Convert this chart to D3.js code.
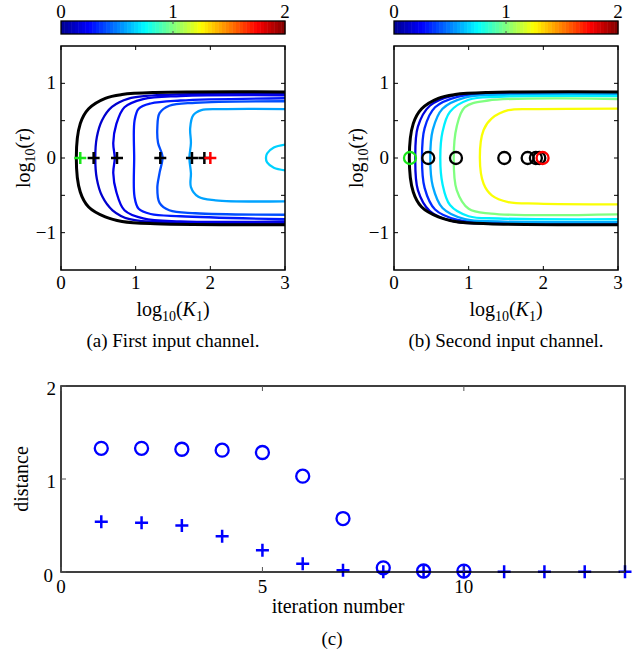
<!DOCTYPE html>
<html>
<head>
<meta charset="utf-8">
<script src="https://cdn.jsdelivr.net/npm/d3@7"></script>
<style>
body{margin:0;background:#fff}
</style>
</head>
<body>
<svg id="fig" width="634" height="656" font-family="'Liberation Serif', 'DejaVu Serif', serif"></svg>
<script>
//jet colour map (value 0..2)
var jetStops = [0, 0.25, 0.75, 1.25, 1.75, 2];
var jetColors = ["#00008f","#0000ff","#00ffff","#ffff00","#ff0000","#800000"];
var cbarTicks = [0, 1, 2];

//axis ticks of the two top panels
var kTicks = [0, 1, 2, 3];
var tauTicks = [-1, -0.5, 0, 0.5, 1];
var tauLabels = [-1, 0, 1];

//feasible region boundary (log10 K1, log10 tau)
var boundary = [[3,0.885],[1.26,0.877],[0.817,0.85],[0.593,0.8],[0.37,0.66],[0.258,0.46],[0.205,0],
    [0.258,-0.456],[0.37,-0.657],[0.593,-0.79],[0.817,-0.85],[1.26,-0.88],[3,-0.893]];

//panel (a) contours
var levelsA = [0.14, 0.2, 0.3, 0.4, 0.57, 0.66];
var contoursA = [
    [[3,0.86],[1.49,0.85],[0.906,0.796],[0.682,0.684],[0.55,0.506],[0.48,0.28],[0.459,0],[0.48,-0.28],[0.55,-0.51],[0.69,-0.7],[0.92,-0.82],[1.5,-0.865],[3,-0.872]],
    [[3,0.84],[1.6,0.83],[1.1,0.79],[0.85,0.68],[0.74,0.45],[0.7,0.2],[0.72,0],[0.7,-0.2],[0.74,-0.45],[0.85,-0.7],[1.1,-0.81],[1.6,-0.85],[3,-0.85]],
    [[3,0.8],[1.6,0.77],[1.2,0.73],[1.04,0.66],[0.985,0.5],[0.98,0],[0.985,-0.52],[1.04,-0.68],[1.2,-0.75],[1.6,-0.78],[3,-0.82]],
    [[3,0.76],[1.8,0.74],[1.45,0.7],[1.32,0.6],[1.29,0.4],[1.3,0.2],[1.36,0.02],[1.32,-0.2],[1.29,-0.4],[1.32,-0.6],[1.45,-0.7],[1.8,-0.74],[3,-0.76]],
    [[3,0.655],[2.15,0.654],[1.88,0.64],[1.77,0.57],[1.73,0.4],[1.74,0.2],[1.72,0],[1.74,-0.2],[1.74,-0.39],[1.84,-0.52],[2.07,-0.567],[3,-0.58]],
    [[3,0.18],[2.85,0.14],[2.76,0.06],[2.745,0],[2.76,-0.06],[2.85,-0.13],[3,-0.165]]
];

//panel (b) contours
var levelsB = [0.17, 0.33, 0.58, 0.72, 1.0, 1.24];
var contoursB = [
    [[3,0.877],[1.3,0.872],[0.8,0.84],[0.48,0.7],[0.32,0.42],[0.285,0],[0.32,-0.43],[0.48,-0.71],[0.8,-0.85],[1.3,-0.877],[3,-0.885]],
    [[3,0.868],[1.3,0.86],[0.85,0.82],[0.55,0.68],[0.41,0.4],[0.375,0],[0.41,-0.4],[0.55,-0.69],[0.85,-0.83],[1.3,-0.865],[3,-0.873]],
    [[3,0.855],[1.4,0.845],[0.95,0.81],[0.65,0.66],[0.52,0.38],[0.486,0],[0.52,-0.38],[0.65,-0.67],[0.95,-0.82],[1.4,-0.85],[3,-0.86]],
    [[3,0.83],[1.4,0.82],[1.0,0.78],[0.75,0.62],[0.65,0.35],[0.62,0],[0.65,-0.35],[0.75,-0.63],[1.0,-0.78],[1.4,-0.81],[3,-0.82]],
    [[3,0.79],[1.26,0.77],[0.95,0.68],[0.84,0.42],[0.8,0],[0.84,-0.43],[1.0,-0.68],[1.3,-0.745],[3,-0.755]],
    [[3,0.66],[1.93,0.654],[1.53,0.64],[1.31,0.53],[1.2,0.375],[1.15,0],[1.2,-0.345],[1.31,-0.5],[1.53,-0.59],[1.93,-0.61],[3,-0.62]]
];

//iterates along tau = 0 (first = start, last = optimum)
var iterKA = [0.258, 0.437, 0.75, 1.33, 1.754, 1.92, 2.0];
var iterKB = [0.214, 0.459, 0.83, 1.477, 1.79, 1.9, 1.946, 1.99];

//panel (c)
var iterPlus = [1,2,3,4,5,6,7,8,9,10,11,12,13,14];
var distPlus = [0.54,0.53,0.5,0.385,0.233,0.09,0.018,0.004,0.003,0.003,0.003,0.003,0.003,0.003];
var iterCirc = [1,2,3,4,5,6,7,8,9,10];
var distCirc = [1.33,1.33,1.32,1.31,1.285,1.03,0.575,0.045,0.011,0.01];
var iterTicks = [0, 5, 10];
var distTicks = [0, 1, 2];

var svg = d3.select("#fig");
svg.append("rect").attr("width",634).attr("height",656).attr("fill","#fff");

var jet = d3.scaleLinear().domain(jetStops).range(jetColors);
var minus = function(v){ return v < 0 ? "\u2212" + Math.abs(v) : String(v); };

//math label like log10(K1)
function mathLabel(g, arg, sub2){
    var t = g.append("text").attr("text-anchor","middle").attr("font-size",20);
    t.append("tspan").text("log");
    t.append("tspan").attr("dy",5).attr("font-size",14).text("10");
    t.append("tspan").attr("dy",-5).text("(");
    t.append("tspan").attr("font-style","italic").text(arg);
    if (sub2) t.append("tspan").attr("dy",5).attr("font-size",14).text(sub2);
    t.append("tspan").attr("dy", sub2 ? -5 : 0).text(")");
    return t;
}

var top0 = 46, size = 224;
var y = d3.scaleLinear().domain([-1.5,1.5]).range([top0+size, top0]);
var line = d3.line().curve(d3.curveCatmullRom.alpha(0.5));

function panel(x0, id, contours, levels, iterK, marker, caption){
    var x = d3.scaleLinear().domain([0,3]).range([x0, x0+size]);
    line.x(function(d){return x(d[0]);}).y(function(d){return y(d[1]);});

    //colorbar
    var c = d3.scaleLinear().domain([0,2]).range([x0, x0+size]);
    var nb = 64;
    svg.append("g").selectAll("rect")
        .data(d3.range(nb))
        .enter().append("rect")
            .attr("x",function(i){return c(i*2/nb);})
            .attr("width",size/nb+0.4)
            .attr("y",21).attr("height",13)
            .attr("fill",function(i){return jet((i+0.5)*2/nb);});
    svg.append("rect").attr("x",x0).attr("y",21).attr("width",size).attr("height",13)
        .attr("fill","none").attr("stroke","#000").attr("stroke-width",1.3);
    svg.append("line").attr("x1",c(1)).attr("x2",c(1)).attr("y1",21).attr("y2",24).attr("stroke","#555");
    svg.append("line").attr("x1",c(1)).attr("x2",c(1)).attr("y1",31).attr("y2",34).attr("stroke","#555");
    svg.append("g").selectAll("text").data(cbarTicks).enter().append("text")
        .attr("x",function(d){return c(d);}).attr("y",18)
        .attr("text-anchor","middle").attr("font-size",19)
        .text(function(d){return d;});

    //contours
    svg.append("clipPath").attr("id",id).append("rect")
        .attr("x",x0).attr("y",top0).attr("width",size).attr("height",size);
    var g = svg.append("g").attr("clip-path","url(#"+id+")");
    g.selectAll("path.ct").data(contours).enter().append("path")
        .attr("class","ct")
        .attr("d",function(d){return line(d);})
        .attr("fill","none")
        .attr("stroke",function(d,i){return jet(levels[i]);})
        .attr("stroke-width",2.3);
    g.append("path").attr("d",line(boundary)).attr("fill","none")
        .attr("stroke","#000").attr("stroke-width",3);

    //iterates
    var mk = svg.append("g");
    var col = function(i){ return i === 0 ? "#19e619" : (i === iterK.length-1 ? "#ff0000" : "#000"); };
    var order = d3.range(1, iterK.length-1).concat([0, iterK.length-1]);
    order.forEach(function(i){
        if (marker === "plus") {
            mk.append("path").attr("d","M-6,0H6M0,-6V6")
                .attr("transform","translate("+x(iterK[i])+","+y(0)+")")
                .attr("stroke",col(i)).attr("stroke-width",2.5).attr("fill","none");
        } else {
            mk.append("circle").attr("cx",x(iterK[i])).attr("cy",y(0)).attr("r",6)
                .attr("stroke",col(i)).attr("stroke-width",2.3).attr("fill","none");
        }
    });

    //axes box and ticks
    svg.append("rect").attr("x",x0).attr("y",top0).attr("width",size).attr("height",size)
        .attr("fill","none").attr("stroke","#000").attr("stroke-width",1.5);
    var tk = svg.append("g").attr("stroke","#000").attr("stroke-width",1);
    kTicks.forEach(function(v){
        tk.append("line").attr("x1",x(v)).attr("x2",x(v)).attr("y1",top0+size).attr("y2",top0+size-4);
        tk.append("line").attr("x1",x(v)).attr("x2",x(v)).attr("y1",top0).attr("y2",top0+4);
    });
    tauTicks.forEach(function(v){
        tk.append("line").attr("x1",x0).attr("x2",x0+4).attr("y1",y(v)).attr("y2",y(v));
        tk.append("line").attr("x1",x0+size).attr("x2",x0+size-4).attr("y1",y(v)).attr("y2",y(v));
    });
    svg.append("g").selectAll("text").data(kTicks).enter().append("text")
        .attr("x",function(d){return x(d);}).attr("y",289)
        .attr("text-anchor","middle").attr("font-size",19)
        .text(function(d){return d;});
    svg.append("g").selectAll("text").data(tauLabels).enter().append("text")
        .attr("x",x0-5).attr("y",function(d){return y(d)+6;})
        .attr("text-anchor","end").attr("font-size",19)
        .text(minus);

    //labels
    mathLabel(svg.append("g").attr("transform","translate("+(x0+size/2)+",316)"), "K", "1");
    mathLabel(svg.append("g").attr("transform","translate("+(x0-31)+",158) rotate(-90)"), "\u03c4", null);
    svg.append("text").attr("x",x0+size/2).attr("y",347).attr("text-anchor","middle")
        .attr("font-size",19).text(caption);
}

panel(61, "clipA", contoursA, levelsA, iterKA, "plus", "(a)  First input channel.");
panel(394, "clipB", contoursB, levelsB, iterKB, "circle", "(b)  Second input channel.");

//panel (c)
var cx = d3.scaleLinear().domain([0,14]).range([61,625]);
var cy = d3.scaleLinear().domain([0,2]).range([572,386]);

var pc = svg.append("g");
pc.selectAll("circle").data(iterCirc).enter().append("circle")
    .attr("cx",function(d){return cx(d);})
    .attr("cy",function(d,i){return cy(distCirc[i]);})
    .attr("r",6.5).attr("fill","none").attr("stroke","#0000ff").attr("stroke-width",2.3);
pc.selectAll("path").data(iterPlus).enter().append("path")
    .attr("d","M-6.5,0H6.5M0,-6.5V6.5")
    .attr("transform",function(d,i){return "translate("+cx(d)+","+cy(distPlus[i])+")";})
    .attr("stroke","#0000ff").attr("stroke-width",2.5).attr("fill","none");

svg.append("rect").attr("x",61).attr("y",386).attr("width",564).attr("height",186)
    .attr("fill","none").attr("stroke","#000").attr("stroke-width",1.5);
var tc = svg.append("g").attr("stroke","#555").attr("stroke-width",1);
iterTicks.forEach(function(v){
    tc.append("line").attr("x1",cx(v)).attr("x2",cx(v)).attr("y1",572).attr("y2",567);
    tc.append("line").attr("x1",cx(v)).attr("x2",cx(v)).attr("y1",386).attr("y2",391);
});
distTicks.forEach(function(v){
    tc.append("line").attr("x1",61).attr("x2",66).attr("y1",cy(v)).attr("y2",cy(v));
    tc.append("line").attr("x1",625).attr("x2",620).attr("y1",cy(v)).attr("y2",cy(v));
});
svg.append("g").selectAll("text").data(iterTicks).enter().append("text")
    .attr("x",function(d){return cx(d);}).attr("y",593)
    .attr("text-anchor","middle").attr("font-size",19)
    .text(function(d){return d;});
svg.append("g").selectAll("text").data(distTicks).enter().append("text")
    .attr("x",function(d){return d === 0 ? 53 : 56;})
    .attr("y",function(d){return cy(d)+(d === 0 ? 10 : 9);})
    .attr("text-anchor","end").attr("font-size",19)
    .text(function(d){return d;});

svg.append("text").attr("transform","translate(28,479) rotate(-90)")
    .attr("text-anchor","middle").attr("font-size",20).text("distance");
svg.append("text").attr("x",338).attr("y",613).attr("text-anchor","middle")
    .attr("font-size",20).text("iteration number");
svg.append("text").attr("x",332).attr("y",645).attr("text-anchor","middle")
    .attr("font-size",19).text("(c)");
</script>
</body>
</html>
